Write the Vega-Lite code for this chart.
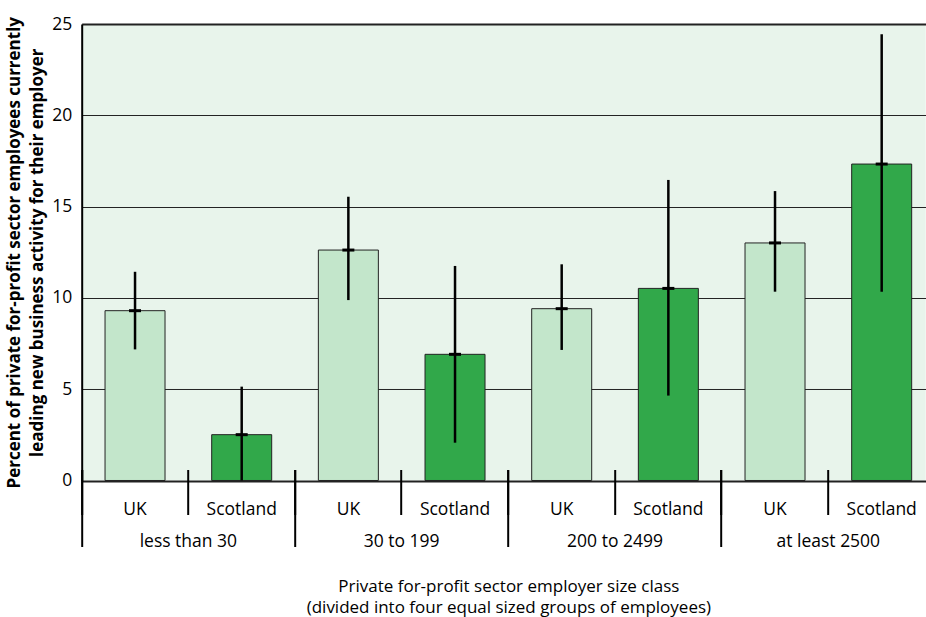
{
  "$schema": "https://vega.github.io/schema/vega-lite/v6.json",
  "width": 844,
  "height": 456.5,
  "autosize": {"type": "none"},
  "padding": {"left": 81.7, "top": 24, "right": 0, "bottom": 136.5},
  "background": "white",
  "config": {
    "view": {"fill": "#e8f4eb", "stroke": null},
    "font": "Open Sans"
  },
  "data": {
    "values": [
      {"size": "less than 30", "region": "UK", "value": 9.3, "lo": 7.18, "hi": 11.43},
      {"size": "less than 30", "region": "Scotland", "value": 2.51, "lo": 0, "hi": 5.14},
      {"size": "30 to 199", "region": "UK", "value": 12.62, "lo": 9.88, "hi": 15.54},
      {"size": "30 to 199", "region": "Scotland", "value": 6.91, "lo": 2.07, "hi": 11.75},
      {"size": "200 to 2499", "region": "UK", "value": 9.41, "lo": 7.15, "hi": 11.84},
      {"size": "200 to 2499", "region": "Scotland", "value": 10.52, "lo": 4.65, "hi": 16.46},
      {"size": "at least 2500", "region": "UK", "value": 13.01, "lo": 10.34, "hi": 15.85},
      {"size": "at least 2500", "region": "Scotland", "value": 17.33, "lo": 10.34, "hi": 24.44}
    ]
  },
  "transform": [{"calculate": "datum.size + '|' + datum.region", "as": "key"}],
  "resolve": {"axis": {"x": "independent"}},
  "layer": [
    {
      "mark": {"type": "bar", "width": {"band": 0.5625}, "stroke": "#222", "strokeWidth": 1},
      "encoding": {
        "x": {
          "field": "key", "type": "nominal", "sort": null,
          "scale": {"range": [0, 853.33], "paddingInner": 0, "paddingOuter": 0},
          "axis": {
            "orient": "bottom", "offset": -11, "domain": false, "bandPosition": 0,
            "tickSize": 45, "tickWidth": 2, "tickColor": "#000",
            "labelOffset": 0, "labelPadding": -13.5, "labelAngle": 0,
            "labelExpr": "split(datum.label, '|')[1]", "labelFontSize": 17.5, "labelColor": "#000",
            "labelOverlap": false, "labelBound": false, "labelFlush": false,
            "title": null, "zindex": 1
          }
        },
        "y": {
          "field": "value", "type": "quantitative",
          "scale": {"domain": [0, 25], "nice": false},
          "axis": {
            "orient": "left",
            "values": [0, 5, 10, 15, 20, 25], "ticks": false,
            "domain": true, "domainColor": "#000", "domainWidth": 2,
            "grid": true, "gridColor": "#222", "gridOpacity": 1,
            "gridWidth": {"condition": {"test": "datum.value == 0 || datum.value == 25", "value": 2}, "value": 1},
            "labelFontSize": 17.5, "labelPadding": 10, "labelColor": "#000",
            "title": ["Percent of private for-profit sector employees currently", "leading new business activity for their employer"],
            "titleFontSize": 17, "titleFontWeight": "bold", "titleColor": "#000",
            "titlePadding": 5, "titleLineHeight": 23
          }
        },
        "color": {
          "field": "region", "type": "nominal",
          "scale": {"domain": ["UK", "Scotland"], "range": ["#c3e6cb", "#31a84a"]},
          "legend": null
        }
      }
    },
    {
      "mark": {"type": "rule", "color": "#000", "strokeWidth": 2.5},
      "encoding": {
        "x": {
          "field": "key", "type": "nominal", "sort": null,
          "axis": {
            "orient": "bottom", "offset": -11, "domain": false, "bandPosition": 0,
            "values": ["less than 30|UK", "30 to 199|UK", "200 to 2499|UK", "at least 2500|UK"],
            "tickSize": 77, "tickWidth": 2, "tickColor": "#000",
            "labelOffset": 53.33, "labelPadding": -13.5, "labelAngle": 0,
            "labelExpr": "split(datum.label, '|')[0]", "labelFontSize": 17.5, "labelColor": "#000",
            "labelOverlap": false, "labelBound": false, "labelFlush": false,
            "title": ["Private for-profit sector employer size class", "(divided into four equal sized groups of employees)"],
            "titleFontSize": 17, "titleFontWeight": "normal", "titleColor": "#000",
            "titlePadding": 28, "titleLineHeight": 21.5, "zindex": 1
          }
        },
        "y": {"field": "lo", "type": "quantitative"},
        "y2": {"field": "hi"}
      }
    },
    {
      "mark": {"type": "tick", "color": "#000", "orient": "horizontal", "size": 12, "thickness": 3, "opacity": 1},
      "encoding": {
        "x": {"field": "key", "type": "nominal", "sort": null, "axis": null},
        "y": {"field": "value", "type": "quantitative"}
      }
    }
  ]
}
